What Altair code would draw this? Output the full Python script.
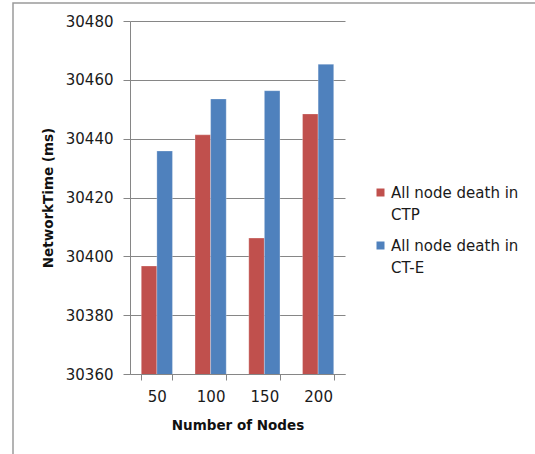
import altair as alt
import pandas as pd

nodes = ["50", "100", "150", "200"]
series = ["All node death in|CTP", "All node death in|CT-E"]
ctp = [30396.7, 30441.3, 30406.2, 30448.4]
cte = [30435.8, 30453.5, 30456.3, 30465.3]
y_ticks = [30360, 30380, 30400, 30420, 30440, 30460, 30480]

rows = []
for i, n in enumerate(nodes):
    rows.append({"nodes": n, "series": series[0], "value": ctp[i]})
    rows.append({"nodes": n, "series": series[1], "value": cte[i]})
df = pd.DataFrame(rows)

FONT = "DejaVu Sans"
GRID = "#868686"

bars = alt.Chart(df).mark_bar(stroke="white", strokeWidth=0.5, strokeOpacity=0.5, clip=True).encode(
    x=alt.X("nodes:N", sort=nodes,
            scale=alt.Scale(paddingInner=0.42, paddingOuter=0.21),
            axis=alt.Axis(title="Number of Nodes", labelAngle=0, tickBand="extent",
                          domainColor=GRID, tickColor=GRID, tickSize=6, grid=False,
                          labelFont=FONT, labelFontSize=15, labelColor="#1a1a1a",
                          labelPadding=9, titleFont=FONT, titleFontSize=13.5,
                          titleFontWeight="bold", titleColor="#111", titlePadding=14)),
    xOffset=alt.XOffset("series:N", sort=series),
    y=alt.Y("value:Q", scale=alt.Scale(domain=[30360, 30480], zero=False, nice=False),
            axis=alt.Axis(title="NetworkTime (ms)", values=y_ticks, format="d",
                          domainColor=GRID, tickColor=GRID, tickSize=7, gridColor=GRID,
                          labelFont=FONT, labelFontSize=15, labelColor="#1a1a1a",
                          labelPadding=10, titleFont=FONT, titleFontSize=13.5,
                          titleFontWeight="bold", titleColor="#111", titlePadding=10)),
    color=alt.Color("series:N", sort=series,
                    scale=alt.Scale(domain=series, range=["#C0504D", "#4F81BD"]),
                    legend=alt.Legend(title=None, orient="none", legendX=243, legendY=164,
                                      symbolType="square", symbolSize=64, symbolStrokeWidth=0,
                                      labelExpr="split(datum.label, '|')",
                                      labelFont=FONT, labelFontSize=15, labelColor="#1a1a1a",
                                      labelLimit=300, rowPadding=15, labelOffset=3)),
)

frame = alt.Chart(pd.DataFrame({"a": [0]})).mark_rect(
    fill=None, stroke="#9a9a9a", strokeWidth=1.5, clip=False
).encode(x=alt.value(-117), x2=alt.value(420), y=alt.value(-18), y2=alt.value(500))

chart = alt.layer(frame, bars).properties(
    width=215, height=353,
    padding={"left": 130, "top": 21, "right": 190, "bottom": 80},
    autosize=alt.AutoSizeParams(type="none"),
).configure(style={"guide-label": {"lineHeight": 22}}).configure_view(stroke=None)

chart.save("out.html", embed_options={"renderer": "svg", "actions": False})
